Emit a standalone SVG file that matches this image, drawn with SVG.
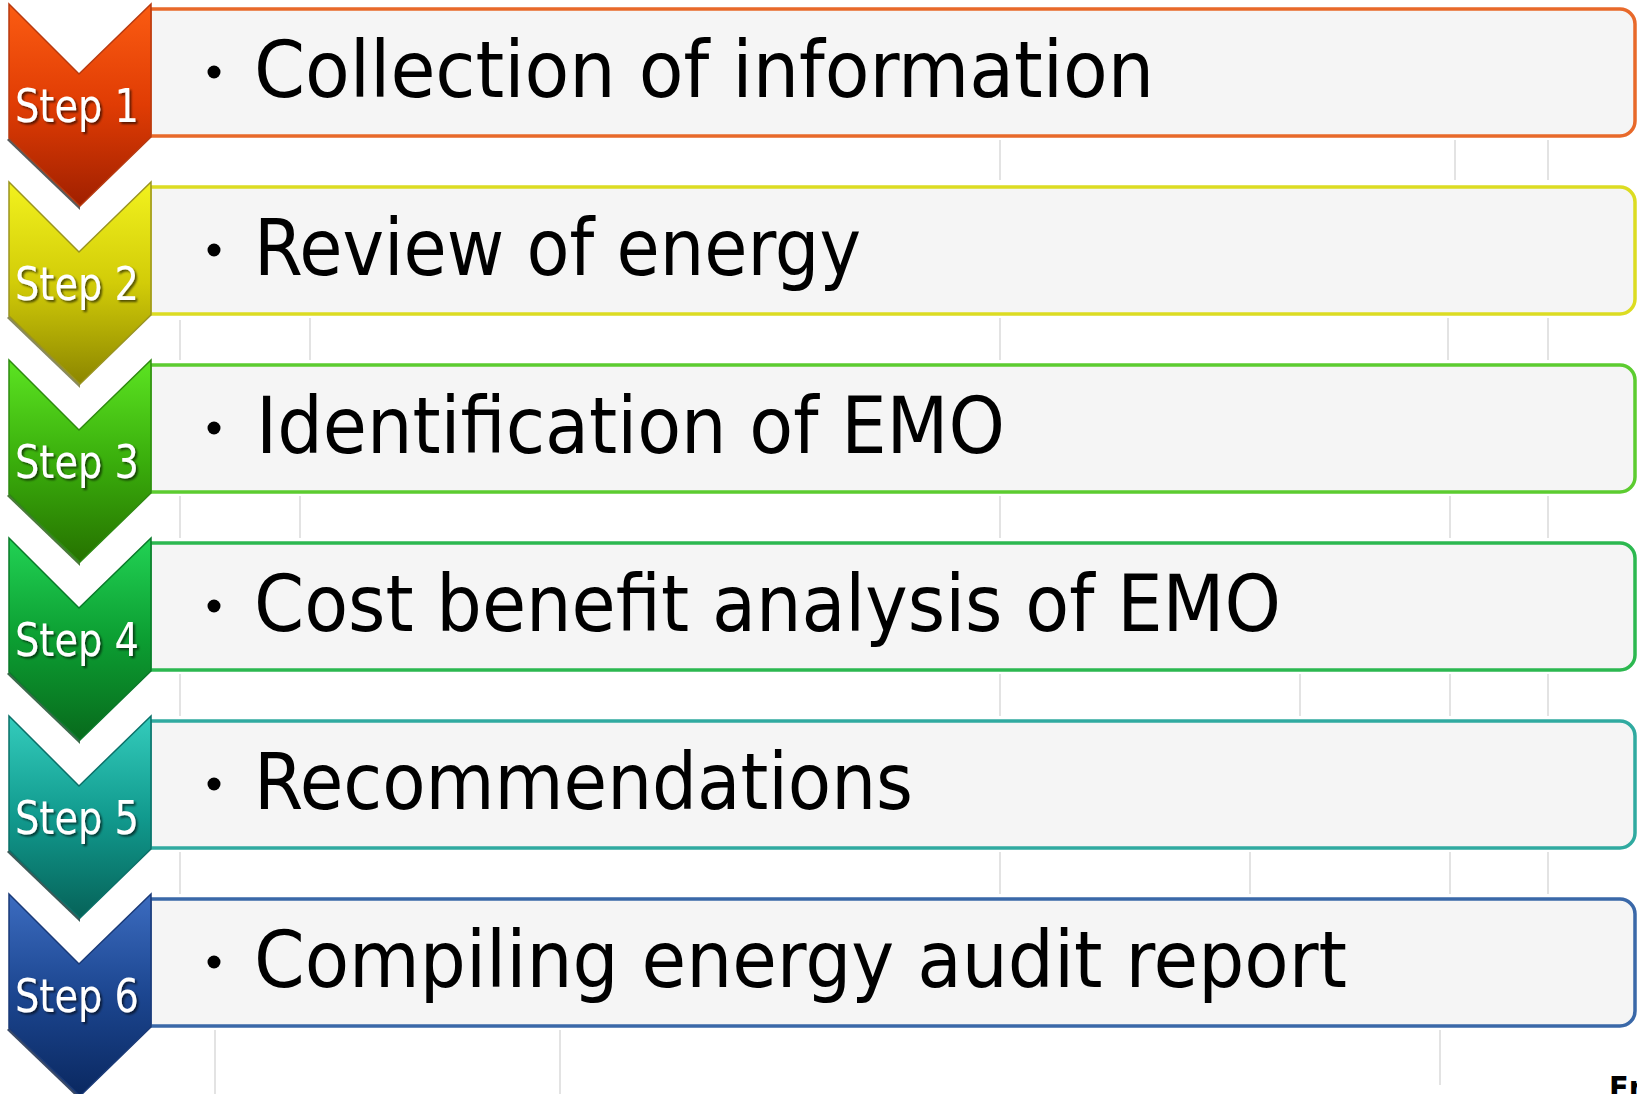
<svg xmlns="http://www.w3.org/2000/svg" xmlns:xlink="http://www.w3.org/1999/xlink" width="1637" height="1094" viewBox="0 0 1637 1094">
<style>
.box{fill:#f5f5f5;stroke-width:3.5}
.lbl{font-family:"DejaVu Sans",sans-serif;font-size:47px;fill:#ffffff;filter:url(#ts)}
.txt{font-family:"DejaVu Sans Condensed","DejaVu Sans",sans-serif;font-size:78px;fill:#000000}
.bul{fill:#000000}
.bg{stroke:#d0d0d0;stroke-width:2;fill:none;opacity:0.6}
.chev{stroke-width:1.5}
</style>
<defs>
<path id="chev" d="M9,4 L79,74 L151,4 L151,137 L80,206 L9,138 Z"/>
<path id="shade" d="M9,138 L80,206 L80,210 L7,140 Z"/>
<linearGradient id="g1" x1="0" y1="0" x2="0" y2="1"><stop offset="0" stop-color="#fb5c12"/><stop offset="0.5" stop-color="#e03c04"/><stop offset="1" stop-color="#a02000"/></linearGradient>
<linearGradient id="g2" x1="0" y1="0" x2="0" y2="1"><stop offset="0" stop-color="#f2f21e"/><stop offset="0.5" stop-color="#d2cc08"/><stop offset="1" stop-color="#8c8600"/></linearGradient>
<linearGradient id="g3" x1="0" y1="0" x2="0" y2="1"><stop offset="0" stop-color="#5ce422"/><stop offset="0.5" stop-color="#3aae0c"/><stop offset="1" stop-color="#267200"/></linearGradient>
<linearGradient id="g4" x1="0" y1="0" x2="0" y2="1"><stop offset="0" stop-color="#22d254"/><stop offset="0.5" stop-color="#0c9e32"/><stop offset="1" stop-color="#086a1c"/></linearGradient>
<linearGradient id="g5" x1="0" y1="0" x2="0" y2="1"><stop offset="0" stop-color="#34ccbc"/><stop offset="0.5" stop-color="#119a8e"/><stop offset="1" stop-color="#066258"/></linearGradient>
<linearGradient id="g6" x1="0" y1="0" x2="0" y2="1"><stop offset="0" stop-color="#3c6cc0"/><stop offset="0.5" stop-color="#1c4690"/><stop offset="1" stop-color="#0a2860"/></linearGradient>
<filter id="ts" x="-10%" y="-20%" width="130%" height="150%"><feDropShadow dx="2" dy="2" stdDeviation="1.2" flood-color="#000000" flood-opacity="0.6"/></filter>
</defs>
<rect x="0" y="0" width="1637" height="1094" fill="#ffffff"/>
<g id="background">
<path class="bg" d="M1000,140 V180 M1455,140 V180 M1548,140 V180 M180,320 V360 M310,318 V360 M1000,318 V360 M1448,318 V360 M1548,318 V360 M180,496 V538 M300,496 V538 M1000,496 V538 M1450,496 V538 M1548,496 V538 M180,674 V716 M1000,674 V716 M1300,674 V716 M1450,674 V716 M1548,674 V716 M180,852 V894 M1000,852 V894 M1250,852 V894 M1450,852 V894 M1548,852 V894 M215,1030 V1094 M560,1030 V1094 M1440,1030 V1085"/>
</g>
<g id="step1">
<path class="box" stroke="#e8692a" d="M150,9 H1620 A15,15 0 0 1 1635,24 V121 A15,15 0 0 1 1620,136 H150 Z"/>
<use href="#shade" fill="#5a5a5a"/>
<use href="#chev" class="chev" fill="url(#g1)" stroke="#b83a10"/>
<text class="lbl" x="15" y="122" textLength="124" lengthAdjust="spacingAndGlyphs">Step 1</text>
<circle class="bul" cx="214" cy="72" r="6.5"/>
<text class="txt" x="254" y="97" textLength="900" lengthAdjust="spacingAndGlyphs">Collection of information</text>
</g>
<g id="step2" transform="translate(0,178)">
<path class="box" stroke="#dcdc22" d="M150,9 H1620 A15,15 0 0 1 1635,24 V121 A15,15 0 0 1 1620,136 H150 Z"/>
<use href="#shade" fill="#8a8a5a"/>
<use href="#chev" class="chev" fill="url(#g2)" stroke="#9a9420"/>
<text class="lbl" x="15" y="122" textLength="124" lengthAdjust="spacingAndGlyphs">Step 2</text>
<circle class="bul" cx="214" cy="72" r="6.5"/>
<text class="txt" x="254" y="97" textLength="607" lengthAdjust="spacingAndGlyphs">Review of energy</text>
</g>
<g id="step3" transform="translate(0,356)">
<path class="box" stroke="#5ccc30" d="M150,9 H1620 A15,15 0 0 1 1635,24 V121 A15,15 0 0 1 1620,136 H150 Z"/>
<use href="#shade" fill="#4a7a3a"/>
<use href="#chev" class="chev" fill="url(#g3)" stroke="#2e8a10"/>
<text class="lbl" x="15" y="122" textLength="124" lengthAdjust="spacingAndGlyphs">Step 3</text>
<circle class="bul" cx="214" cy="72" r="6.5"/>
<text class="txt" x="256" y="97" textLength="749" lengthAdjust="spacingAndGlyphs">Identification of EMO</text>
</g>
<g id="step4" transform="translate(0,534)">
<path class="box" stroke="#2cb850" d="M150,9 H1620 A15,15 0 0 1 1635,24 V121 A15,15 0 0 1 1620,136 H150 Z"/>
<use href="#shade" fill="#3a6a4a"/>
<use href="#chev" class="chev" fill="url(#g4)" stroke="#0a7a2a"/>
<text class="lbl" x="15" y="122" textLength="124" lengthAdjust="spacingAndGlyphs">Step 4</text>
<circle class="bul" cx="214" cy="72" r="6.5"/>
<text class="txt" x="254" y="97" textLength="1027" lengthAdjust="spacingAndGlyphs">Cost benefit analysis of EMO</text>
</g>
<g id="step5" transform="translate(0,712)">
<path class="box" stroke="#30aaa0" d="M150,9 H1620 A15,15 0 0 1 1635,24 V121 A15,15 0 0 1 1620,136 H150 Z"/>
<use href="#shade" fill="#3a5a58"/>
<use href="#chev" class="chev" fill="url(#g5)" stroke="#0a7068"/>
<text class="lbl" x="15" y="122" textLength="124" lengthAdjust="spacingAndGlyphs">Step 5</text>
<circle class="bul" cx="214" cy="72" r="6.5"/>
<text class="txt" x="254" y="97" textLength="659" lengthAdjust="spacingAndGlyphs">Recommendations</text>
</g>
<g id="step6" transform="translate(0,890)">
<path class="box" stroke="#3a68a8" d="M150,9 H1620 A15,15 0 0 1 1635,24 V121 A15,15 0 0 1 1620,136 H150 Z"/>
<use href="#shade" fill="#3a4a68"/>
<use href="#chev" class="chev" fill="url(#g6)" stroke="#1a3a78"/>
<text class="lbl" x="15" y="122" textLength="124" lengthAdjust="spacingAndGlyphs">Step 6</text>
<circle class="bul" cx="214" cy="72" r="6.5"/>
<text class="txt" x="254" y="97" textLength="1093" lengthAdjust="spacingAndGlyphs">Compiling energy audit report</text>
</g>
<text x="1609" y="1099" font-family="'DejaVu Sans Condensed','DejaVu Sans',sans-serif" font-weight="bold" font-size="32" fill="#000000">En</text>
</svg>
